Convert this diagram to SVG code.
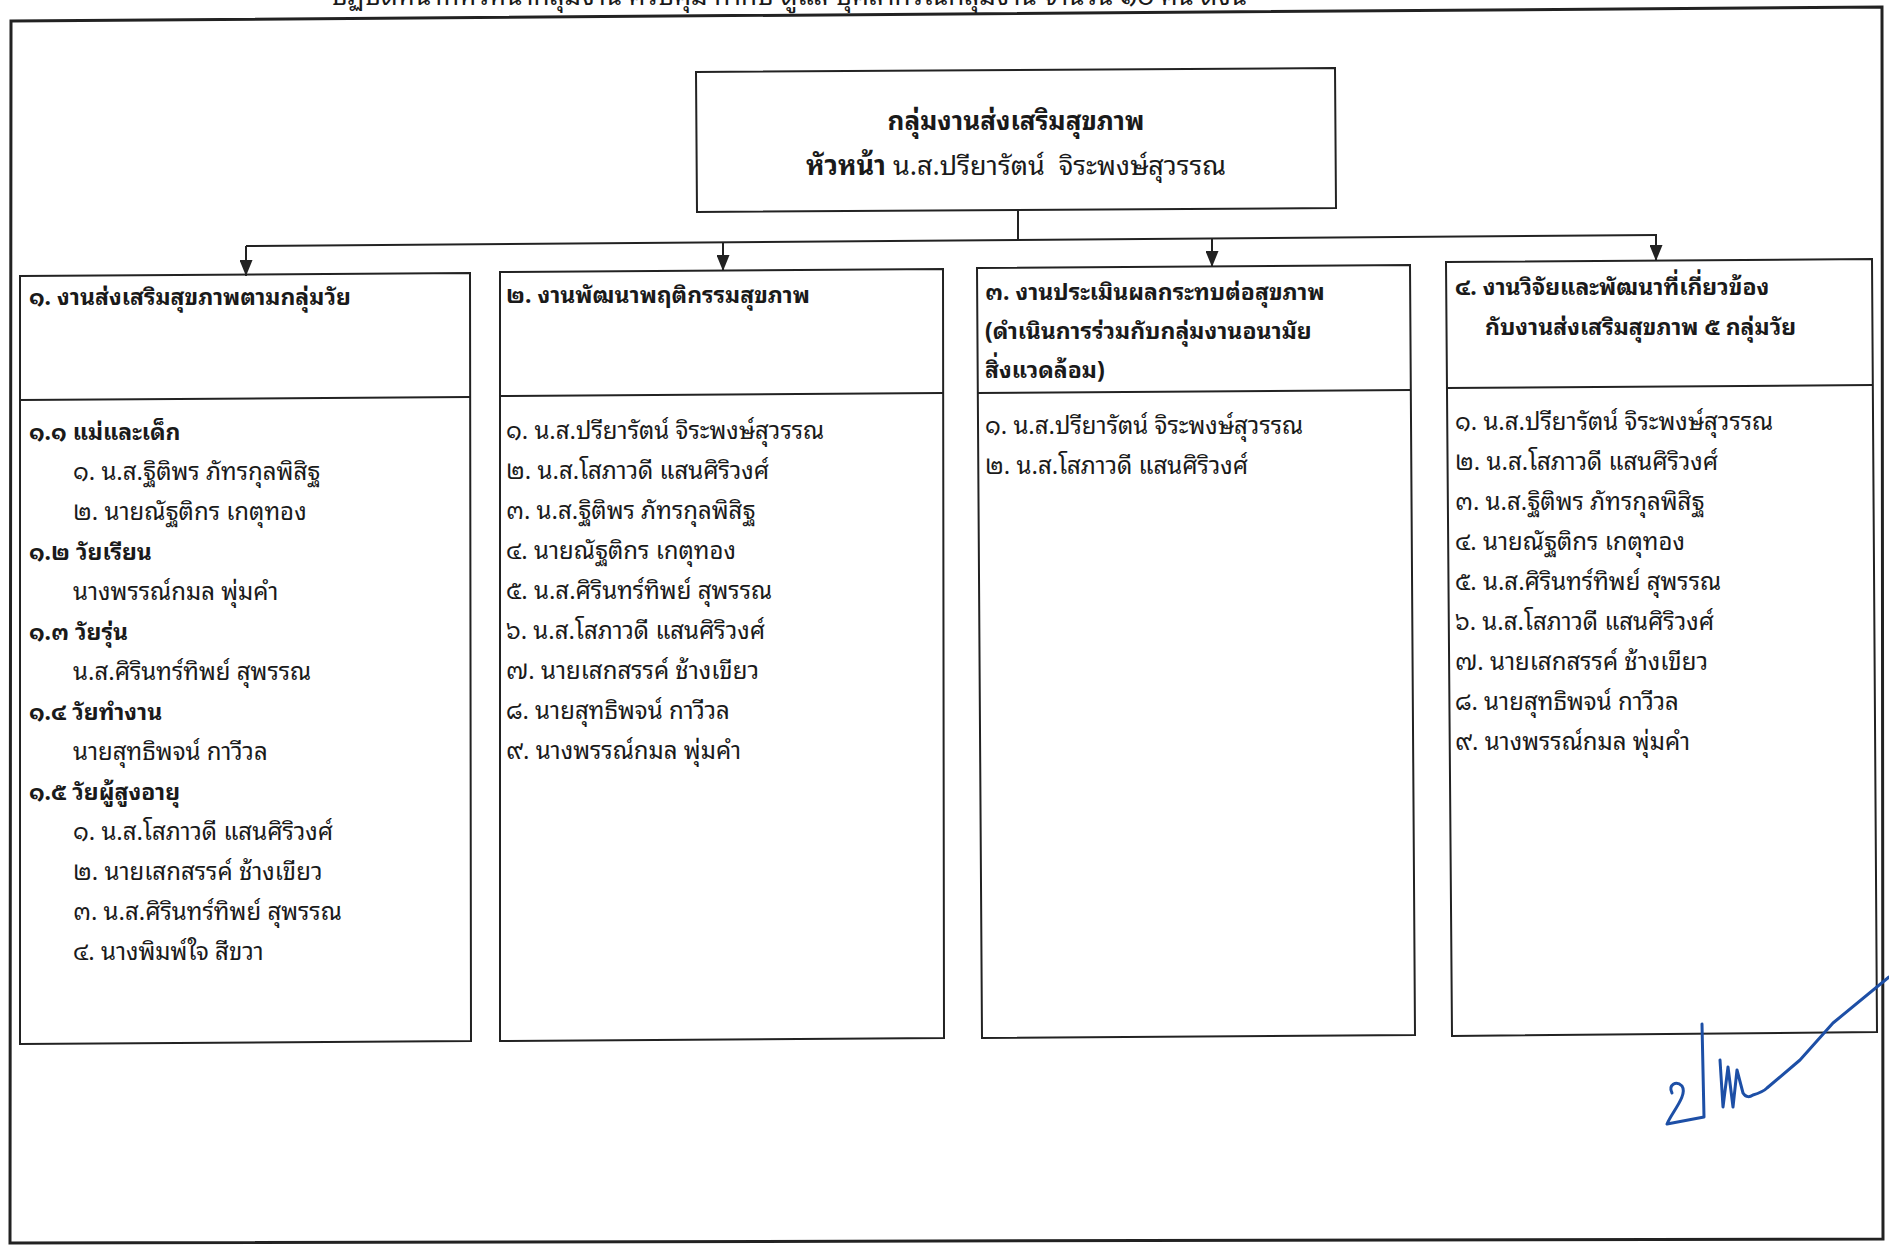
<svg xmlns="http://www.w3.org/2000/svg" width="1889" height="1253" viewBox="0 0 1889 1253">
<defs>
<style>
.t{font-family:"Noto Sans Thai Looped","Noto Sans Thai","Noto Sans","Tahoma",sans-serif;font-size:24px;fill:#1a1a1a}
.b{font-weight:bold;font-size:23px}
.h1{font-weight:bold;font-size:26px}
.h2{font-size:27px}
.top{font-size:26px}
.box{fill:none;stroke:#222;stroke-width:2}
.frame{fill:none;stroke:#222;stroke-width:3}
.ln{fill:none;stroke:#222;stroke-width:2}
</style>
<marker id="ah" viewBox="0 0 10 10" refX="10" refY="5" markerWidth="16" markerHeight="13" markerUnits="userSpaceOnUse" orient="auto" preserveAspectRatio="none">
<path d="M0,0 L10,5 L0,10 z" fill="#222"/>
</marker>
</defs>
<rect width="1889" height="1253" fill="#fff"/>
<text class="t top" x="331" y="5" textLength="916" lengthAdjust="spacingAndGlyphs">ปฏิบัติหน้าที่หัวหน้ากลุ่มงาน ควบคุม กำกับ ดูแล บุคลากรในกลุ่มงาน จำนวน ๑๐ คน ดังนี้</text>
<path class="frame" d="M11,21 L1882,7 L1883,1239 L10,1243 Z"/>
<g id="head">
<path class="box" d="M696,72 L1335,68 L1336,208 L697,212 Z"/>
<text class="t h1" x="1016" y="130" text-anchor="middle">กลุ่มงานส่งเสริมสุขภาพ</text>
<text class="t h2" x="1016" y="175" text-anchor="middle" xml:space="preserve"><tspan font-weight="bold">หัวหน้า</tspan> น.ส.ปรียารัตน์  จิระพงษ์สุวรรณ</text>
</g>
<g id="connectors">
<path class="ln" d="M1018,210 L1018,240"/>
<path class="ln" d="M246,246 L1657,235"/>
<path class="ln" d="M246,246 L246,276" marker-end="url(#ah)"/>
<path class="ln" d="M723,242.4 L723,271" marker-end="url(#ah)"/>
<path class="ln" d="M1212,238.7 L1212,267" marker-end="url(#ah)"/>
<path class="ln" d="M1656,235.4 L1656,261" marker-end="url(#ah)"/>
</g>
<g id="box1">
<path class="box" d="M20,276 L470,273 L471,1041 L20,1044 Z"/>
<path class="ln" d="M20,400 L470,397"/>
<text class="t b" x="29" y="305">๑. งานส่งเสริมสุขภาพตามกลุ่มวัย</text>
<text class="t b" x="29" y="440">๑.๑ แม่และเด็ก</text>
<text class="t" x="73" y="480">๑. น.ส.ฐิติพร ภัทรกุลพิสิฐ</text>
<text class="t" x="73" y="520">๒. นายณัฐติกร เกตุทอง</text>
<text class="t b" x="29" y="560">๑.๒ วัยเรียน</text>
<text class="t" x="73" y="600">นางพรรณ์กมล พุ่มคำ</text>
<text class="t b" x="29" y="640">๑.๓ วัยรุ่น</text>
<text class="t" x="73" y="680">น.ส.ศิรินทร์ทิพย์ สุพรรณ</text>
<text class="t b" x="29" y="720">๑.๔ วัยทำงาน</text>
<text class="t" x="73" y="760">นายสุทธิพจน์ กาวีวล</text>
<text class="t b" x="29" y="800">๑.๕ วัยผู้สูงอายุ</text>
<text class="t" x="73" y="840">๑. น.ส.โสภาวดี แสนศิริวงศ์</text>
<text class="t" x="73" y="880">๒. นายเสกสรรค์ ช้างเขียว</text>
<text class="t" x="73" y="920">๓. น.ส.ศิรินทร์ทิพย์ สุพรรณ</text>
<text class="t" x="73" y="960">๔. นางพิมพ์ใจ สีขวา</text>
</g>
<g id="box2">
<path class="box" d="M500,272 L943,269 L944,1038 L500,1041 Z"/>
<path class="ln" d="M500,396 L943,393"/>
<text class="t b" x="506" y="303">๒. งานพัฒนาพฤติกรรมสุขภาพ</text>
<text class="t" x="506" y="439">๑. น.ส.ปรียารัตน์ จิระพงษ์สุวรรณ</text>
<text class="t" x="506" y="479">๒. น.ส.โสภาวดี แสนศิริวงศ์</text>
<text class="t" x="506" y="519">๓. น.ส.ฐิติพร ภัทรกุลพิสิฐ</text>
<text class="t" x="506" y="559">๔. นายณัฐติกร เกตุทอง</text>
<text class="t" x="506" y="599">๕. น.ส.ศิรินทร์ทิพย์ สุพรรณ</text>
<text class="t" x="506" y="639">๖. น.ส.โสภาวดี แสนศิริวงศ์</text>
<text class="t" x="506" y="679">๗. นายเสกสรรค์ ช้างเขียว</text>
<text class="t" x="506" y="719">๘. นายสุทธิพจน์ กาวีวล</text>
<text class="t" x="506" y="759">๙. นางพรรณ์กมล พุ่มคำ</text>
</g>
<g id="box3">
<path class="box" d="M977,268 L1410,265 L1415,1035 L982,1038 Z"/>
<path class="ln" d="M977,393 L1411,390"/>
<text class="t b" x="985" y="300">๓. งานประเมินผลกระทบต่อสุขภาพ</text>
<text class="t b" x="985" y="339">(ดำเนินการร่วมกับกลุ่มงานอนามัย</text>
<text class="t b" x="985" y="378">สิ่งแวดล้อม)</text>
<text class="t" x="985" y="434">๑. น.ส.ปรียารัตน์ จิระพงษ์สุวรรณ</text>
<text class="t" x="985" y="474">๒. น.ส.โสภาวดี แสนศิริวงศ์</text>
</g>
<g id="box4">
<path class="box" d="M1446,262 L1872,259 L1877,1032 L1452,1036 Z"/>
<path class="ln" d="M1446,388 L1873,385"/>
<text class="t b" x="1455" y="295">๔. งานวิจัยและพัฒนาที่เกี่ยวข้อง</text>
<text class="t b" x="1485" y="335">กับงานส่งเสริมสุขภาพ ๕ กลุ่มวัย</text>
<text class="t" x="1455" y="430">๑. น.ส.ปรียารัตน์ จิระพงษ์สุวรรณ</text>
<text class="t" x="1455" y="470">๒. น.ส.โสภาวดี แสนศิริวงศ์</text>
<text class="t" x="1455" y="510">๓. น.ส.ฐิติพร ภัทรกุลพิสิฐ</text>
<text class="t" x="1455" y="550">๔. นายณัฐติกร เกตุทอง</text>
<text class="t" x="1455" y="590">๕. น.ส.ศิรินทร์ทิพย์ สุพรรณ</text>
<text class="t" x="1455" y="630">๖. น.ส.โสภาวดี แสนศิริวงศ์</text>
<text class="t" x="1455" y="670">๗. นายเสกสรรค์ ช้างเขียว</text>
<text class="t" x="1455" y="710">๘. นายสุทธิพจน์ กาวีวล</text>
<text class="t" x="1455" y="750">๙. นางพรรณ์กมล พุ่มคำ</text>
</g>
<g id="signature" fill="none" stroke="#1d4fa6" stroke-width="3" stroke-linecap="round" stroke-linejoin="round">
<path d="M1672,1093 C1668,1085 1676,1080 1682,1086 C1688,1095 1672,1112 1667,1124 L1704,1117 L1702,1024"/>
<path d="M1720,1060 L1723,1107 L1728,1067 L1733,1107 L1737,1070 L1743,1093 C1746,1098 1750,1097 1753,1095 C1760,1093 1764,1091 1767,1088 L1800,1060 L1833,1023 L1889,977"/>
</g>
</svg>
